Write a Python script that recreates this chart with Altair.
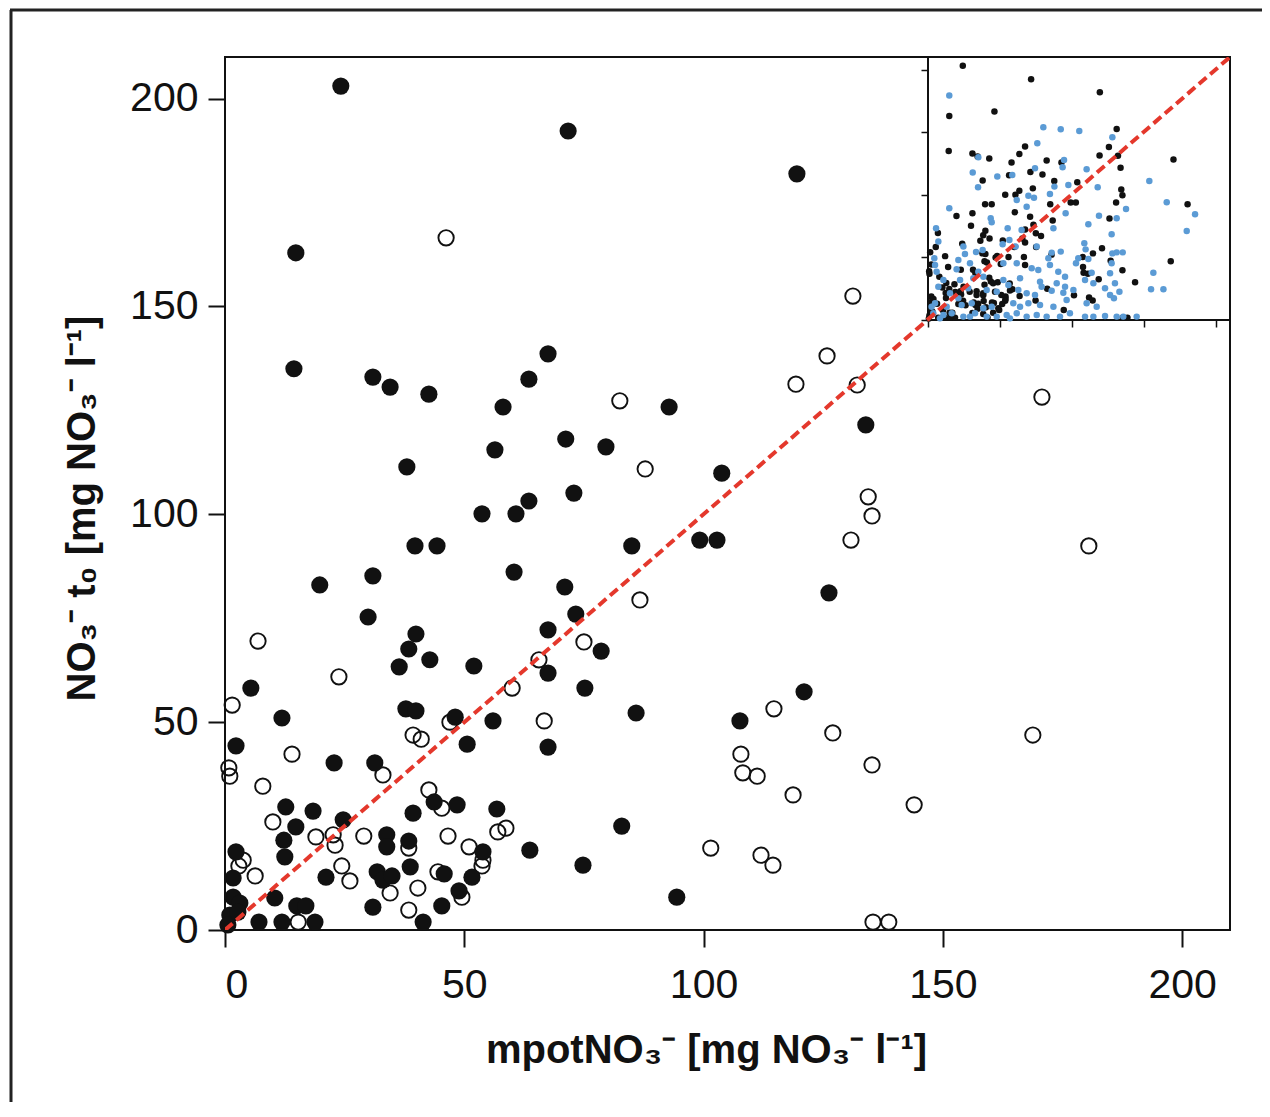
import altair as alt
import pandas as pd

# ---------------- data ----------------
filled_pts = [
    (24.2, 203.0), (71.7, 192.2), (119.5, 181.9), (14.8, 162.9), (14.4, 135.0),
    (30.9, 133.0), (34.5, 130.6), (42.6, 128.9), (67.5, 138.6), (63.5, 132.5),
    (58.1, 125.8), (92.8, 125.8), (133.9, 121.5), (71.2, 118.1), (56.4, 115.5),
    (79.6, 116.2), (38.0, 111.4), (103.8, 109.9), (72.9, 105.1), (63.5, 103.2),
    (53.7, 100.1), (60.8, 100.1), (99.2, 93.8), (102.8, 93.8), (39.7, 92.4),
    (44.3, 92.4), (85.0, 92.4), (19.8, 83.0), (60.4, 86.1), (30.9, 85.2),
    (71.0, 82.5), (73.3, 76.0), (126.2, 81.1), (29.9, 75.3), (39.9, 71.2),
    (38.4, 67.6), (67.5, 72.2), (42.8, 65.0), (36.4, 63.3), (52.0, 63.5),
    (67.5, 61.8), (78.6, 67.1), (5.4, 58.2), (75.2, 58.2), (85.9, 52.2),
    (121.0, 57.3), (37.8, 53.2), (39.9, 52.7), (48.1, 51.2), (11.9, 51.0),
    (56.0, 50.3), (107.6, 50.3), (50.6, 44.7), (67.5, 44.0), (2.3, 44.3),
    (22.8, 40.2), (31.3, 40.2), (12.7, 29.6), (18.4, 28.6), (39.3, 28.1),
    (43.7, 30.8), (48.5, 30.1), (56.8, 29.1), (14.8, 24.8), (24.7, 26.5),
    (12.3, 21.6), (12.5, 17.6), (33.8, 22.9), (33.8, 20.0), (38.4, 21.4),
    (53.9, 18.8), (2.3, 18.8), (1.7, 12.5), (21.1, 12.7), (31.8, 14.0),
    (33.0, 12.0), (34.9, 13.0), (38.7, 15.2), (45.8, 13.5), (51.6, 12.7),
    (48.9, 9.4), (1.7, 7.9), (3.1, 6.5), (10.4, 7.7), (15.0, 5.8),
    (16.9, 5.8), (30.9, 5.5), (45.3, 5.8), (7.1, 1.9), (11.9, 1.9),
    (18.8, 1.9), (41.4, 1.9), (63.7, 19.2), (74.8, 15.6), (82.9, 25.0),
    (94.4, 7.9), (1.0, 3.6), (0.6, 1.2), (2.7, 4.3),
]

open_pts = [
    (46.2, 166.5), (131.2, 152.5), (82.5, 127.3), (125.8, 138.1), (119.3, 131.3),
    (132.1, 131.1), (170.7, 128.2), (87.8, 110.9), (134.4, 104.2), (135.2, 99.6),
    (130.8, 93.8), (180.5, 92.4), (86.7, 79.4), (6.9, 69.5), (75.0, 69.3),
    (65.6, 65.0), (23.8, 60.9), (60.0, 58.2), (1.5, 54.1), (66.7, 50.3),
    (114.7, 53.2), (47.0, 50.0), (127.0, 47.4), (168.8, 46.9), (39.3, 46.9),
    (41.0, 45.9), (14.0, 42.3), (107.8, 42.3), (135.2, 39.7), (0.8, 39.0),
    (1.0, 37.0), (33.0, 37.3), (108.2, 37.8), (111.2, 37.0), (7.9, 34.6),
    (42.6, 33.7), (118.7, 32.5), (144.0, 30.1), (10.0, 26.0), (45.3, 29.3),
    (22.6, 22.9), (23.0, 20.4), (19.0, 22.4), (29.0, 22.6), (46.6, 22.6),
    (57.0, 23.6), (58.7, 24.5), (51.0, 20.0), (38.4, 19.7), (101.5, 19.7),
    (3.8, 16.8), (2.9, 15.4), (6.3, 13.0), (24.4, 15.4), (26.1, 11.8),
    (44.5, 14.0), (53.9, 16.8), (53.7, 15.4), (34.5, 8.9), (40.3, 10.1),
    (49.5, 7.9), (38.4, 4.8), (15.3, 1.9), (112.0, 18.0), (114.5, 15.6),
    (135.4, 1.9), (138.7, 1.9),
]

blue_pts = [
    (14.8, 179.2), (80.2, 153.9), (92.3, 152.3), (105.2, 151.0), (76.0, 141.1),
    (128.2, 145.9), (35.0, 129.9), (31.1, 117.7), (48.2, 114.5), (58.6, 115.8),
    (74.4, 121.1), (94.6, 127.8), (93.6, 121.9), (110.3, 120.3), (34.8, 106.0),
    (87.9, 106.5), (97.6, 107.8), (118.0, 106.0), (153.9, 111.0), (14.8, 89.2),
    (61.7, 95.8), (69.8, 99.3), (73.7, 97.7), (84.8, 100.6), (95.7, 85.2),
    (118.9, 83.3), (131.2, 81.2), (137.7, 88.7), (166.0, 94.0), (185.7, 84.4),
    (179.9, 71.1), (43.6, 81.2), (44.3, 78.0), (55.4, 73.2), (68.6, 90.5),
    (65.1, 71.9), (87.2, 73.2), (111.5, 76.4), (127.7, 68.4), (5.6, 73.2),
    (7.2, 62.6), (4.4, 49.3), (24.6, 58.6), (25.7, 52.7), (33.4, 54.3),
    (38.0, 55.9), (51.9, 60.4), (56.6, 63.9), (61.0, 58.6), (75.6, 58.6),
    (86.0, 53.8), (92.3, 54.6), (104.5, 49.3), (108.7, 61.2), (109.6, 56.4),
    (111.5, 48.7), (128.2, 53.2), (131.2, 54.0), (135.4, 54.0), (127.7, 45.3),
    (4.9, 43.9), (21.1, 47.9), (29.2, 45.3), (19.9, 40.5), (35.0, 38.6),
    (52.4, 45.3), (61.7, 45.3), (72.1, 41.3), (76.7, 39.9), (83.7, 49.3),
    (84.8, 43.9), (90.6, 38.6), (95.3, 34.6), (102.9, 45.3), (113.8, 37.8),
    (126.6, 37.3), (156.7, 37.8), (6.0, 38.6), (10.7, 31.9), (22.3, 31.9),
    (31.5, 33.3), (38.5, 34.6), (52.4, 31.9), (64.0, 33.3), (77.9, 30.6),
    (89.5, 29.3), (95.3, 26.6), (109.2, 31.9), (115.0, 29.3), (123.1, 25.3),
    (130.0, 29.3), (126.6, 20.0), (133.1, 22.6), (129.3, 17.3), (155.1, 24.5),
    (163.7, 24.5), (7.2, 26.6), (15.3, 21.3), (21.1, 17.3), (28.0, 25.3),
    (40.8, 24.0), (47.8, 22.6), (55.9, 28.0), (62.8, 24.0), (68.6, 21.3),
    (74.4, 20.0), (79.0, 26.6), (86.0, 23.4), (94.1, 21.8), (101.1, 24.0),
    (4.9, 13.3), (13.0, 10.6), (23.4, 12.0), (30.4, 13.3), (38.5, 9.3),
    (44.3, 10.6), (59.3, 13.3), (64.0, 10.6), (69.8, 13.3), (77.9, 12.0),
    (87.2, 10.6), (96.4, 16.0), (110.3, 13.3), (117.3, 10.6), (3.7, 5.3),
    (10.7, 4.0), (16.5, 5.3), (24.6, 2.7), (32.7, 5.3), (40.8, 2.7),
    (54.7, 4.0), (61.7, 5.3), (68.6, 2.7), (75.6, 4.0), (82.5, 2.7),
    (91.8, 2.7), (98.7, 5.3), (109.2, 2.7), (115.0, 2.7), (123.1, 3.2),
    (131.2, 2.7), (135.8, 2.7), (145.1, 2.7), (2.5, 10.6), (8.3, 1.3),
    (29.2, 2.7), (47.8, 2.7), (57.0, 1.3),
]

tick_values = [0, 50, 100, 150, 200]
axis_extent = [0, 210]
x_title = "mpotNO₃⁻ [mg NO₃⁻ l⁻¹]"
y_title = "NO₃⁻ t₀ [mg NO₃⁻ l⁻¹]"

FONT = "Liberation Sans"
W, H = 1005, 873

filled_df = pd.DataFrame(filled_pts, columns=["x", "y"])
open_df = pd.DataFrame(open_pts, columns=["x", "y"])
inset_black_df = pd.concat([filled_df, open_df], ignore_index=True)
blue_df = pd.DataFrame(blue_pts, columns=["x", "y"])
diag_df = pd.DataFrame({"x": axis_extent, "y": axis_extent})
inset_box_df = pd.DataFrame({"x0": [axis_extent[0]], "x1": [axis_extent[1]],
                             "y0": [axis_extent[0]], "y1": [axis_extent[1]]})

# ---------------- main scales / axes ----------------
mx_scale = alt.Scale(domain=axis_extent, nice=False, zero=False)
my_scale = alt.Scale(domain=axis_extent, nice=False, zero=False)

common_axis = dict(
    values=tick_values, grid=False, domain=False,
    tickSize=17, tickWidth=2, tickColor="#111",
    labelFont=FONT, labelFontSize=41, labelColor="#111",
    titleFont=FONT, titleFontSize=40, titleFontWeight="bold", titleColor="#111",
    titleAlign="center", titleBaseline="alphabetic",
)
x_axis = alt.Axis(title=x_title, labelPadding=18, titleX=481, titleY=132, **common_axis)
y_axis = alt.Axis(title=y_title, labelPadding=10, titleAngle=270,
                  titleX=-131, titleY=451, **common_axis)

mx = alt.X("x:Q", scale=mx_scale, axis=x_axis)
my = alt.Y("y:Q", scale=my_scale, axis=y_axis)

open_layer = alt.Chart(open_df).mark_point(
    shape="circle", filled=False, stroke="#111", strokeWidth=1.9, size=235, opacity=1
).encode(x=mx, y=my)

filled_layer = alt.Chart(filled_df).mark_circle(
    size=295, color="#111", opacity=1
).encode(x=mx, y=my)

main_group = alt.layer(open_layer, filled_layer)

# ---------------- inset ----------------
ix_scale = alt.Scale(domain=axis_extent, range=[703, 1005], nice=False, zero=False)
iy_scale = alt.Scale(domain=axis_extent, range=[263, 0], nice=False, zero=False)
inset_axis = dict(values=tick_values, labels=False, title=None, domain=False, grid=False,
                  tickSize=7, tickWidth=1.5, tickColor="#111")
ix_axis = alt.Axis(orient="bottom", offset=-610, **inset_axis)
iy_axis = alt.Axis(orient="left", offset=-703, **inset_axis)

inset_box = alt.Chart(inset_box_df).mark_rect(
    fill="white", stroke="#111", strokeWidth=2
).encode(
    x=alt.X("x0:Q", scale=ix_scale, axis=ix_axis), x2="x1:Q",
    y=alt.Y("y0:Q", scale=iy_scale, axis=iy_axis), y2="y1:Q",
)
inset_black = alt.Chart(inset_black_df).mark_circle(size=42, color="#111", opacity=1).encode(
    x=alt.X("x:Q", scale=ix_scale, axis=ix_axis),
    y=alt.Y("y:Q", scale=iy_scale, axis=iy_axis),
)
inset_blue = alt.Chart(blue_df).mark_circle(size=42, color="#5b9bd5", opacity=1).encode(
    x=alt.X("x:Q", scale=ix_scale, axis=ix_axis),
    y=alt.Y("y:Q", scale=iy_scale, axis=iy_axis),
)
inset_group = alt.layer(inset_box, inset_black, inset_blue)

# ---------------- 1:1 line ----------------
diag = alt.Chart(diag_df).mark_line(
    color="#e4382c", strokeWidth=4, strokeDash=[10, 5], clip=True
).encode(
    x=alt.X("x:Q", scale=alt.Scale(domain=axis_extent, nice=False, zero=False), axis=None),
    y=alt.Y("y:Q", scale=alt.Scale(domain=axis_extent, nice=False, zero=False), axis=None),
)

# ---------------- outer figure frame ----------------
frame_df = pd.DataFrame({"k": [0]})
frame_left = alt.Chart(frame_df).mark_rule(color="#222", strokeWidth=3).encode(
    x=alt.value(-214), y=alt.value(-47), y2=alt.value(1100)
)
frame_top = alt.Chart(frame_df).mark_rule(color="#222", strokeWidth=3).encode(
    y=alt.value(-47), x=alt.value(-215), x2=alt.value(1100)
)

chart = alt.layer(
    main_group, inset_group, diag, frame_left, frame_top
).resolve_scale(
    x="independent", y="independent"
).properties(
    width=W, height=H,
    autosize=alt.AutoSizeParams(type="none"),
    padding={"left": 217, "top": 49, "right": 32, "bottom": 172},
    background="white",
).configure_view(
    stroke="#111", strokeWidth=2
)

chart.save("out.html", embed_options={"renderer": "svg", "actions": False})
